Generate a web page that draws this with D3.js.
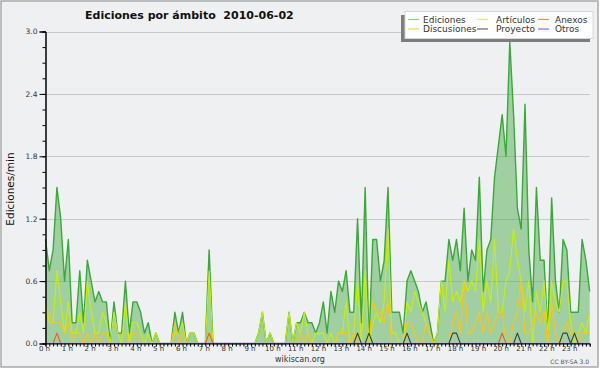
<!DOCTYPE html>
<html>
<head>
<meta charset="utf-8">
<script src="https://cdn.jsdelivr.net/npm/d3@7"></script>
<style>
  body { margin: 0; background: #fff; }
  svg { display: block; font-family: "DejaVu Sans", sans-serif; }
</style>
</head>
<body>
<svg id="chart" width="600" height="370"></svg>
<script>
// edits per minute, 10 minute steps, one row per two hours
var ediciones = [
  1.0,0.7,0.9,1.5,1.2,0.6,  1.0,0.2,0.2,0.7,0.2,0.8,
  0.6,0.4,0.5,0.4,0.4,0.0,  0.4,0.1,0.1,0.6,0.1,0.4,
  0.4,0.3,0.1,0.2,0.0,0.1,  0.0,0.0,0.0,0.0,0.3,0.1,
  0.3,0.0,0.1,0.1,0.0,0.0,  0.0,0.9,0.0,0.0,0.0,0.0,
  0.0,0.0,0.0,0.0,0.0,0.0,  0.0,0.0,0.1,0.3,0.0,0.1,
  0.0,0.0,0.0,0.0,0.3,0.0,  0.2,0.2,0.3,0.2,0.2,0.1,
  0.2,0.4,0.1,0.5,0.3,0.6,  0.5,0.7,0.3,0.3,1.2,0.2,
  1.5,0.0,1.0,1.0,0.6,0.8,  1.5,0.3,0.3,0.3,0.1,0.6,
  0.7,0.6,0.5,0.3,0.4,0.2,  0.0,0.1,0.6,0.6,1.0,0.8,
  1.0,0.7,1.3,0.6,0.9,0.8,  1.6,0.5,0.9,1.0,1.6,1.9,
  2.2,1.8,2.9,2.2,1.3,1.1,  2.3,0.9,0.4,1.5,0.8,0.8,
  0.1,1.4,0.6,0.3,1.0,0.9,  0.3,0.3,0.3,1.0,0.8,0.5
]
var articulos = [
  0.4,0.2,0.2,0.7,0.4,0.1,  0.4,0.1,0.1,0.3,0.1,0.6,
  0.3,0.1,0.1,0.3,0.2,0.0,  0.3,0.1,0.0,0.4,0.0,0.2,
  0.2,0.1,0.0,0.1,0.0,0.1,  0.0,0.0,0.0,0.0,0.1,0.1,
  0.2,0.0,0.1,0.1,0.0,0.0,  0.0,0.7,0.0,0.0,0.0,0.0,
  0.0,0.0,0.0,0.0,0.0,0.0,  0.0,0.0,0.1,0.3,0.0,0.1,
  0.0,0.0,0.0,0.0,0.3,0.0,  0.2,0.1,0.3,0.1,0.0,0.1,
  0.1,0.1,0.0,0.1,0.0,0.1,  0.1,0.4,0.0,0.1,0.6,0.0,
  0.7,0.0,0.2,0.3,0.2,0.4,  1.1,0.1,0.1,0.0,0.0,0.4,
  0.3,0.5,0.4,0.3,0.2,0.1,  0.0,0.1,0.6,0.3,0.8,0.4,
  0.5,0.4,0.6,0.5,0.6,0.5,  1.0,0.3,0.6,0.4,1.0,0.3,
  0.3,0.6,0.7,1.1,0.8,0.6,  0.3,0.6,0.0,0.5,0.3,0.6,
  0.1,0.6,0.4,0.3,0.6,0.6,  0.2,0.0,0.1,0.2,0.1,0.3
]
var discusiones = [
  0.3,0.3,0.2,0.2,0.2,0.1,  0.2,0.0,0.1,0.1,0.0,0.1,
  0.0,0.1,0.0,0.1,0.1,0.0,  0.0,0.0,0.0,0.0,0.0,0.1,
  0.1,0.0,0.0,0.0,0.0,0.0,  0.0,0.0,0.0,0.0,0.2,0.0,
  0.1,0.0,0.0,0.0,0.0,0.0,  0.0,0.1,0.0,0.0,0.0,0.0,
  0.0,0.0,0.0,0.0,0.0,0.0,  0.0,0.0,0.0,0.0,0.0,0.0,
  0.0,0.0,0.0,0.0,0.0,0.0,  0.0,0.1,0.0,0.1,0.0,0.0,
  0.0,0.0,0.0,0.0,0.0,0.1,  0.1,0.1,0.0,0.1,0.0,0.0,
  0.0,0.0,0.4,0.3,0.3,0.2,  0.4,0.0,0.0,0.0,0.0,0.2,
  0.2,0.1,0.0,0.0,0.2,0.1,  0.0,0.0,0.0,0.0,0.0,0.2,
  0.3,0.1,0.6,0.1,0.1,0.2,  0.3,0.1,0.3,0.1,0.2,0.3,
  0.3,0.0,0.0,0.2,0.3,0.6,  0.1,0.1,0.2,0.3,0.2,0.3,
  0.0,0.4,0.1,0.0,0.1,0.2,  0.1,0.1,0.0,0.1,0.1,0.1
]
var anexos = [
  0,0,0,0.1,0,0, 0,0,0,0,0,0,  0,0,0,0,0,0, 0,0,0,0,0,0,
  0,0,0,0,0,0, 0,0,0,0,0,0,    0,0,0,0,0,0, 0,0.1,0,0,0,0,
  0,0,0,0,0,0, 0,0,0,0,0,0,    0,0,0,0,0,0, 0,0,0,0,0,0,
  0,0,0,0,0,0, 0,0,0,0,0,0,    0,0,0,0,0,0, 0,0,0,0,0,0,
  0,0,0,0,0,0, 0,0,0,0,0,0,    0,0,0,0,0,0, 0,0,0,0,0,0,
  0.1,0,0,0,0,0, 0,0,0,0,0,0,  0,0,0,0,0,0, 0,0,0,0,0,0
]
var proyecto = [
  0,0,0,0,0,0, 0,0,0,0,0,0,    0,0,0,0,0,0, 0,0,0,0,0,0,
  0,0,0,0,0,0, 0,0,0,0,0,0,    0,0,0,0,0,0, 0,0,0,0,0,0,
  0,0,0,0,0,0, 0,0,0,0,0,0,    0,0,0,0,0,0, 0,0,0,0,0,0,
  0,0,0,0,0,0, 0,0,0,0,0.1,0,  0,0.1,0,0,0,0, 0,0,0,0,0,0.1,
  0,0,0,0,0,0, 0,0,0,0,0,0.1,  0.1,0,0,0,0,0, 0,0,0,0,0,0,
  0,0,0,0,0.1,0, 0,0,0,0,0,0,  0,0,0,0,0.1,0.1, 0,0.1,0,0,0,0
]
var otros = [
  0,0,0,0,0,0, 0,0,0,0,0,0,  0,0,0,0,0,0, 0,0,0,0,0,0,
  0,0,0,0,0,0, 0,0,0,0,0,0,  0,0,0,0,0,0, 0,0,0,0,0,0,
  0,0,0,0,0,0, 0,0,0,0,0,0,  0,0,0,0,0,0, 0,0,0,0,0,0,
  0,0,0,0,0,0, 0,0,0,0,0,0,  0,0,0,0,0,0, 0,0,0,0,0,0,
  0,0,0,0,0,0, 0,0,0,0,0,0,  0,0,0,0,0,0, 0,0,0,0,0,0,
  0,0,0,0,0,0, 0,0,0,0,0,0,  0,0,0,0,0,0, 0,0,0,0,0,0
]

var series = [
  { name: "Ediciones",   values: ediciones,   color: "#3aa83a", key: "#8fd48f" },
  { name: "Artículos",   values: articulos,   color: "#c8f000", key: "#d4ee66" },
  { name: "Discusiones", values: discusiones, color: "#ffc40d", key: "#f6d24e" },
  { name: "Anexos",      values: anexos,      color: "#f05a1e", key: "#f08c5c" },
  { name: "Proyecto",    values: proyecto,    color: "#3c3c3c", key: "#666666" },
  { name: "Otros",       values: otros,       color: "#8c32f0", key: "#a460f0" }
]
var legendOrder = ["Ediciones", "Artículos", "Anexos", "Discusiones", "Proyecto", "Otros"]
var minutes = d3.range(144).map(function(i) { return i * 10 })
var hours = d3.range(24)
var yTicks = [0, 0.6, 1.2, 1.8, 2.4, 3.0]

var svg = d3.select("#chart")
var x = d3.scaleLinear().domain([0, 1430]).range([45.5, 589.7])
var y = d3.scaleLinear().domain([0, 3]).range([343.5, 31.5])

// frame
svg.append("rect").attr("x", 1).attr("y", 1).attr("width", 597).attr("height", 366)
  .attr("fill", "#eff0f2").attr("stroke", "#a9a9a9").attr("stroke-width", 1.5)

// grid
svg.append("g").selectAll("line").data(yTicks.slice(1)).enter().append("line")
  .attr("x1", 45.5).attr("x2", 589.7)
  .attr("y1", function(d) { return Math.round(y(d)) + 0.5 })
  .attr("y2", function(d) { return Math.round(y(d)) + 0.5 })
  .attr("stroke", "#c9c9c9").attr("stroke-width", 1)

var line = function(vals) {
  return d3.line()
    .x(function(d, i) { return x(minutes[i]) })
    .y(function(d) { return y(d) })(vals)
}
var area = d3.area()
  .x(function(d, i) { return x(minutes[i]) })
  .y0(y(0))
  .y1(function(d) { return y(d) })

svg.append("path").attr("d", area(ediciones))
  .attr("fill", "rgb(64,168,64)").attr("fill-opacity", 0.45)

series.forEach(function(s, k) {
  svg.append("path").attr("d", line(s.values))
    .attr("fill", "none").attr("stroke", s.color)
    .attr("stroke-width", k == 0 ? 1.4 : 1.1)
    .attr("stroke-linejoin", "round")
})

// axes
var yAxis = svg.append("g").attr("transform", "translate(45.5,0)")
  .call(d3.axisLeft(y).tickValues(yTicks).tickSize(6).tickPadding(2).tickFormat(d3.format(".1f")))
svg.append("g").attr("transform", "translate(45.5,0)")
  .call(d3.axisLeft(y).tickValues(d3.range(0, 3.01, 0.15)).tickSize(3).tickFormat(""))
svg.append("g").attr("transform", "translate(0,343.5)")
  .call(d3.axisBottom(x).tickValues(minutes).tickSize(3).tickFormat(""))
var xAxis = svg.append("g").attr("transform", "translate(0,343.5)")
  .call(d3.axisBottom(x).tickValues(hours.map(function(h) { return h * 60 }))
    .tickSize(0).tickPadding(3).tickFormat(function(d) { return (d / 60) + " h" }))

svg.selectAll(".domain").attr("stroke", "#000")
svg.selectAll(".tick line").attr("stroke", "#000")
yAxis.selectAll("text").attr("font-size", 7.5).attr("fill", "#333")
  .attr("font-family", "DejaVu Sans")
xAxis.selectAll("text").attr("font-size", 7).attr("fill", "#333")
  .attr("font-family", "DejaVu Sans").attr("dx", -1.5)
xAxis.select(".domain").remove()

// title & texts
svg.append("text").attr("x", 85).attr("y", 18.5)
  .attr("font-size", 11).attr("font-weight", "bold").attr("fill", "#111")
  .style("white-space", "pre").text("Ediciones por ámbito  2010-06-02")

svg.append("text").attr("transform", "translate(14,189) rotate(-90)")
  .attr("text-anchor", "middle").attr("font-size", 10.5).attr("fill", "#111")
  .text("Ediciones/min")

svg.append("text").attr("x", 300).attr("y", 362).attr("text-anchor", "middle")
  .attr("font-size", 8).attr("fill", "#333").text("wikiscan.org")

svg.append("text").attr("x", 589).attr("y", 364).attr("text-anchor", "end")
  .attr("font-size", 6).attr("fill", "#555").text("CC BY-SA 3.0")

// legend
var lg = svg.append("g")
lg.append("rect").attr("x", 401).attr("y", 15).attr("width", 189).attr("height", 27)
  .attr("fill", "#7d7d7d")
lg.append("rect").attr("x", 405).attr("y", 11.5).attr("width", 188).attr("height", 27)
  .attr("fill", "#fff").attr("stroke", "#d6d6d6")
var colX = [408, 477, 538], textDx = [15, 19, 17]
var item = lg.selectAll(".item").data(series).enter().append("g")
  .attr("transform", function(d) {
    var p = legendOrder.indexOf(d.name)
    return "translate(" + colX[p % 3] + "," + (19.5 + Math.floor(p / 3) * 9.5) + ")"
  })
item.append("line").attr("x1", 0).attr("x2", 11)
  .attr("stroke", function(d) { return d.key }).attr("stroke-width", 1.2)
item.append("text").attr("x", function(d) { return textDx[legendOrder.indexOf(d.name) % 3] })
  .attr("y", 3.3).attr("font-size", 9).attr("fill", "#333")
  .text(function(d) { return d.name })
</script>
</body>
</html>
